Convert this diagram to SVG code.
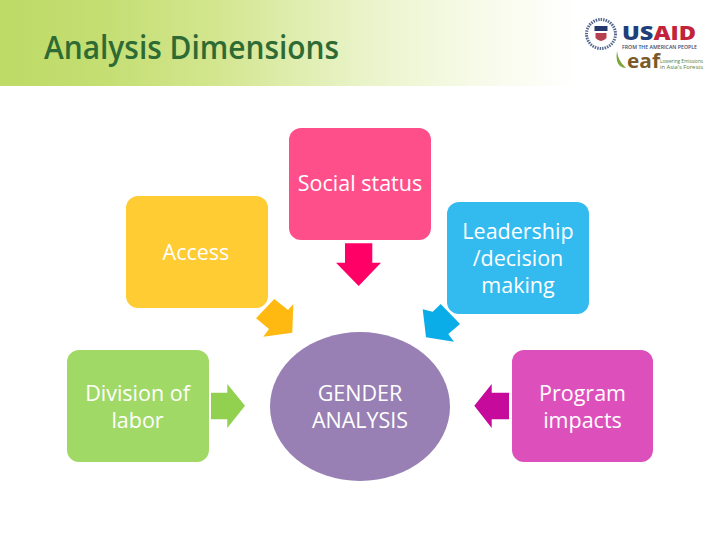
<svg xmlns="http://www.w3.org/2000/svg" width="720" height="540" viewBox="0 0 720 540">
<style>
text{font-family:"Open Sans","Noto Sans","Liberation Sans",sans-serif}
.l{font-size:21.500px;fill:#fff;text-anchor:middle}
.a{stroke:#fff;stroke-width:2.500;paint-order:stroke;stroke-linejoin:miter}
</style>
<defs>
<linearGradient id="bg" x1="0" y1="0" x2="1" y2="0">
<stop offset="0" stop-color="#bddb66"/><stop offset="0.14" stop-color="#c4de72"/><stop offset="0.3" stop-color="#d3e68f"/><stop offset="0.5" stop-color="#e9f3c8"/><stop offset="0.65" stop-color="#f6fae6"/><stop offset="0.8" stop-color="#fff"/><stop offset="1" stop-color="#fff"/>
</linearGradient>
</defs>
<g id="header">
<rect x="0" y="0" width="720" height="86" fill="url(#bg)"/>
<text x="44" y="59" font-size="32" font-weight="600" fill="#2e6b34" textLength="295" lengthAdjust="spacingAndGlyphs">Analysis Dimensions</text>
</g>
<g id="logo">
<circle cx="601" cy="34" r="14.500" fill="#fff" stroke="#56698f" stroke-width="3" stroke-dasharray="1.500 1"/>
<rect x="594.500" y="26" width="13" height="5" fill="#24386b"/>
<path d="M595.500 33h11v5q-5.500 6-11 0z" fill="#b5404f"/>
<text x="622" y="39.500" font-size="20" font-weight="800" textLength="74" lengthAdjust="spacingAndGlyphs" fill="#1f3f7a">US<tspan fill="#c2233b">AID</tspan></text>
<text x="622" y="49" font-size="5.500" font-weight="600" fill="#3a4a6b" textLength="75" lengthAdjust="spacingAndGlyphs">FROM THE AMERICAN PEOPLE</text>
<path d="M617 51q1 10 9 17q-7 0-9-7q-1-5 0-10z" fill="#7ea63a"/>
<text x="627" y="67.500" font-size="20" font-weight="700" fill="#7a5a2a" textLength="33" lengthAdjust="spacingAndGlyphs">eaf</text>
<text x="660" y="62.800" font-size="4.800" fill="#4f7d45" textLength="43" lengthAdjust="spacingAndGlyphs">Lowering Emissions</text>
<text x="660" y="68.500" font-size="4.800" fill="#4f7d45" textLength="43" lengthAdjust="spacingAndGlyphs">in Asia's Forests</text>
</g>
<g id="social"><rect x="289" y="128" width="142" height="112" rx="12" fill="#ff4f8b"/><text class="l" x="360" y="190.500">Social status</text></g>
<g id="access"><rect x="126" y="196" width="142" height="112" rx="12" fill="#ffcc33"/><text class="l" x="196" y="260">Access</text></g>
<g id="leadership"><rect x="447" y="202" width="142" height="112" rx="12" fill="#33bbf0"/><text class="l" x="518" y="239">Leadership</text><text class="l" x="518" y="266">/decision</text><text class="l" x="518" y="293">making</text></g>
<g id="division"><rect x="67" y="350" width="142" height="112" rx="12" fill="#a0d966"/><text class="l" x="137.500" y="401">Division of</text><text class="l" x="137.500" y="428">labor</text></g>
<g id="gender"><ellipse cx="360" cy="406.500" rx="90" ry="74.500" fill="#9880b4"/><text class="l" x="360" y="401">GENDER</text><text class="l" x="360" y="428">ANALYSIS</text></g>
<g id="program"><rect x="512" y="350" width="141" height="112" rx="12" fill="#dd50bc"/><text class="l" x="582.500" y="401">Program</text><text class="l" x="582.500" y="428">impacts</text></g>
<g id="connectors">
<polygon class="a" fill="#ff0066" points="345,243.300 372.300,243.300 372.300,262.700 381,262.700 358.700,286 336,262.700 345,262.700"/>
<polygon class="a" fill="#ffb911" points="274.300,299 288,310 293.300,304 292.300,332.700 263.300,336.700 269,329 256,318.300"/>
<polygon class="a" fill="#0bade9" points="440.700,304 460,324 448.300,334 454,341.700 426,337.300 422.700,309.300 432.700,311.700"/>
<polygon class="a" fill="#92d050" points="211,392.700 227.300,392.700 227.300,384 245,405.700 227.300,428 227.300,419.300 211,419.300"/>
<polygon class="a" fill="#c60a9c" points="509,392.700 491.700,392.700 491.700,384 474.300,405.700 491.700,428 491.700,419.300 509,419.300"/>
</g>
</svg>
